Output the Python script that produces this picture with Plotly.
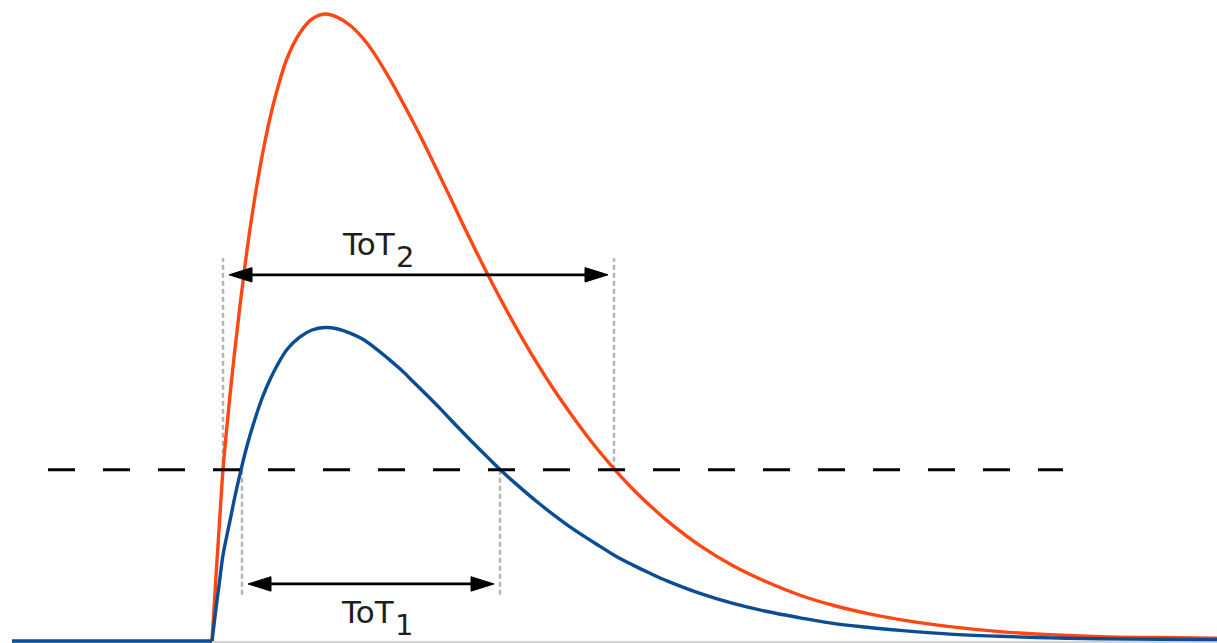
import plotly.graph_objects as go

# Time axis in ns (pulse onset at t = 0), amplitudes in mV
t_red = [0.0, 0.4, 0.8, 1.1, 1.8, 2.3, 2.8, 3.3, 3.8, 4.5, 5.1, 5.8, 6.5, 7.5, 8.8, 10.0,
         11.3, 12.5, 13.8, 15.0, 16.1, 17.5, 18.8, 20.1, 21.5, 22.8, 23.8, 25.8, 27.5,
         29.1, 30.8, 32.5, 34.1, 35.8, 37.5, 38.8, 40.3, 42.1, 43.8, 45.5, 48.8, 52.1,
         55.5, 58.8, 62.1, 65.5, 68.8, 73.8, 78.8, 83.8, 88.8, 94.8, 100.5]
v_red = [0.0, 10.3, 20.2, 27.3, 39.2, 46.6, 53.5, 59.9, 65.7, 72.8, 78.1, 83.4, 87.8, 92.9, 97.0, 99.2,
         100.0, 99.5, 98.2, 96.3, 94.0, 90.4, 86.7, 82.8, 78.4, 74.1, 70.8, 64.1, 58.7,
         53.8, 48.9, 44.3, 40.3, 36.4, 32.7, 30.1, 27.3, 24.2, 21.6, 19.2, 15.2, 12.0,
         9.4, 7.3, 5.7, 4.4, 3.4, 2.3, 1.5, 1.0, 0.7, 0.55, 0.45]

t_blue = [0.0, 0.4, 0.8, 1.1, 1.8, 2.3, 2.8, 3.3, 3.8, 4.5, 5.1, 5.8, 6.5, 7.5, 8.8, 10.0,
          11.3, 12.5, 13.8, 15.0, 16.1, 17.5, 18.8, 20.1, 21.5, 22.8, 23.8, 25.8, 27.5,
          29.1, 30.8, 32.5, 34.1, 35.8, 37.5, 38.8, 40.3, 42.1, 43.8, 45.5, 48.8, 52.1,
          55.5, 58.8, 62.1, 65.5, 68.8, 73.8, 78.8, 83.8, 88.8, 94.8, 100.5]
v_blue = [0.0, 5.2, 10.1, 13.7, 19.2, 23.1, 26.6, 29.9, 32.8, 36.4, 39.1, 41.7, 43.9, 46.5, 48.5, 49.6,
          50.0, 49.8, 49.1, 48.2, 47.0, 45.2, 43.4, 41.4, 39.2, 37.1, 35.4, 32.1, 29.4,
          26.9, 24.5, 22.2, 20.2, 18.2, 16.4, 15.1, 13.6, 12.1, 10.8, 9.6, 7.6, 6.0,
          4.7, 3.7, 2.8, 2.2, 1.7, 1.1, 0.75, 0.5, 0.35, 0.27, 0.22]

# Quiet baseline before the pulses
t_base = [-20.0, 0.0]
v_base = [0.0, 0.0]

threshold = 27.3
threshold_span = [-16.4, 85.1]

# Threshold crossing times (leading edge, trailing edge)
tot2_cross = [1.1, 40.2]
tot1_cross = [3.0, 28.8]

RED = "#ff4713"
BLUE = "#0a4d94"
GREY = "#b4b4b4"
FONT = "DejaVu Sans"
TEXT = "#1e1e1e"

fig = go.Figure()

fig.add_trace(go.Scatter(x=t_red, y=v_red, mode="lines",
                         line=dict(color=RED, width=3.4, shape="spline", smoothing=1.0),
                         hoverinfo="skip"))
fig.add_trace(go.Scatter(x=t_blue, y=v_blue, mode="lines",
                         line=dict(color=BLUE, width=3.4, shape="spline", smoothing=1.0),
                         hoverinfo="skip"))
fig.add_trace(go.Scatter(x=t_base, y=v_base, mode="lines",
                         line=dict(color=BLUE, width=3.4), hoverinfo="skip"))

shapes = []

# axis baseline
shapes.append(dict(type="line", xref="x", yref="y", x0=t_base[0], x1=t_red[-1],
                   y0=-0.15, y1=-0.15, line=dict(color="#c6c6c6", width=1.5),
                   layer="below"))

# threshold
shapes.append(dict(type="line", xref="x", yref="y",
                   x0=threshold_span[0], x1=threshold_span[1],
                   y0=threshold, y1=threshold,
                   line=dict(color="black", width=3, dash="27px,28px"), layer="above"))

# guide lines from the crossings up (ToT2) and down (ToT1)
tot2_level = 58.4
tot1_level = 9.1
guide_top = 61.1
guide_bottom = 7.3
for tc in tot2_cross:
    shapes.append(dict(type="line", xref="x", yref="y", x0=tc, x1=tc,
                       y0=threshold, y1=guide_top,
                       line=dict(color=GREY, width=2.5, dash="5px,3px"), layer="below"))
for tc in tot1_cross:
    shapes.append(dict(type="line", xref="x", yref="y", x0=tc, x1=tc,
                       y0=threshold, y1=guide_bottom,
                       line=dict(color=GREY, width=2.5, dash="5px,3px"), layer="below"))

# double-headed arrows
shrink = 0.6
head_len = 2.3
head_half = 1.15


def double_arrow(cross, level):
    a = cross[0] + shrink
    b = cross[1] - shrink
    out = [dict(type="line", xref="x", yref="y", x0=a + head_len * 0.5, x1=b - head_len * 0.5,
                y0=level, y1=level, line=dict(color="black", width=2.7), layer="above")]
    left = (f"M {a} {level} L {a + head_len} {level + head_half} "
            f"L {a + head_len} {level - head_half} Z")
    right = (f"M {b} {level} L {b - head_len} {level + head_half} "
             f"L {b - head_len} {level - head_half} Z")
    for p in (left, right):
        out.append(dict(type="path", xref="x", yref="y", path=p,
                        fillcolor="black", line=dict(color="black", width=1),
                        layer="above"))
    return out


shapes += double_arrow(tot2_cross, tot2_level)
shapes += double_arrow(tot1_cross, tot1_level)

annotations = []


def tot_label(x, y, sub):
    return [
        dict(x=x, y=y, xref="x", yref="y", text="ToT", showarrow=False,
             xanchor="left", yanchor="middle",
             font=dict(family=FONT, size=31, color=TEXT)),
        dict(x=x + 5.4, y=y - 2.1, xref="x", yref="y", text=sub, showarrow=False,
             xanchor="left", yanchor="middle",
             font=dict(family=FONT, size=29, color=TEXT)),
    ]


annotations += tot_label(12.8, 63.3, "2")
annotations += tot_label(12.7, 4.7, "1")

fig.update_layout(
    width=1217, height=643,
    margin=dict(l=0, r=0, t=0, b=0),
    paper_bgcolor="white", plot_bgcolor="white",
    showlegend=False,
    xaxis=dict(range=[-21.2, 100.5], visible=False, fixedrange=True),
    yaxis=dict(range=[-0.319, 102.23], visible=False, fixedrange=True),
    shapes=shapes,
    annotations=annotations,
)

fig.write_html("out.html")
